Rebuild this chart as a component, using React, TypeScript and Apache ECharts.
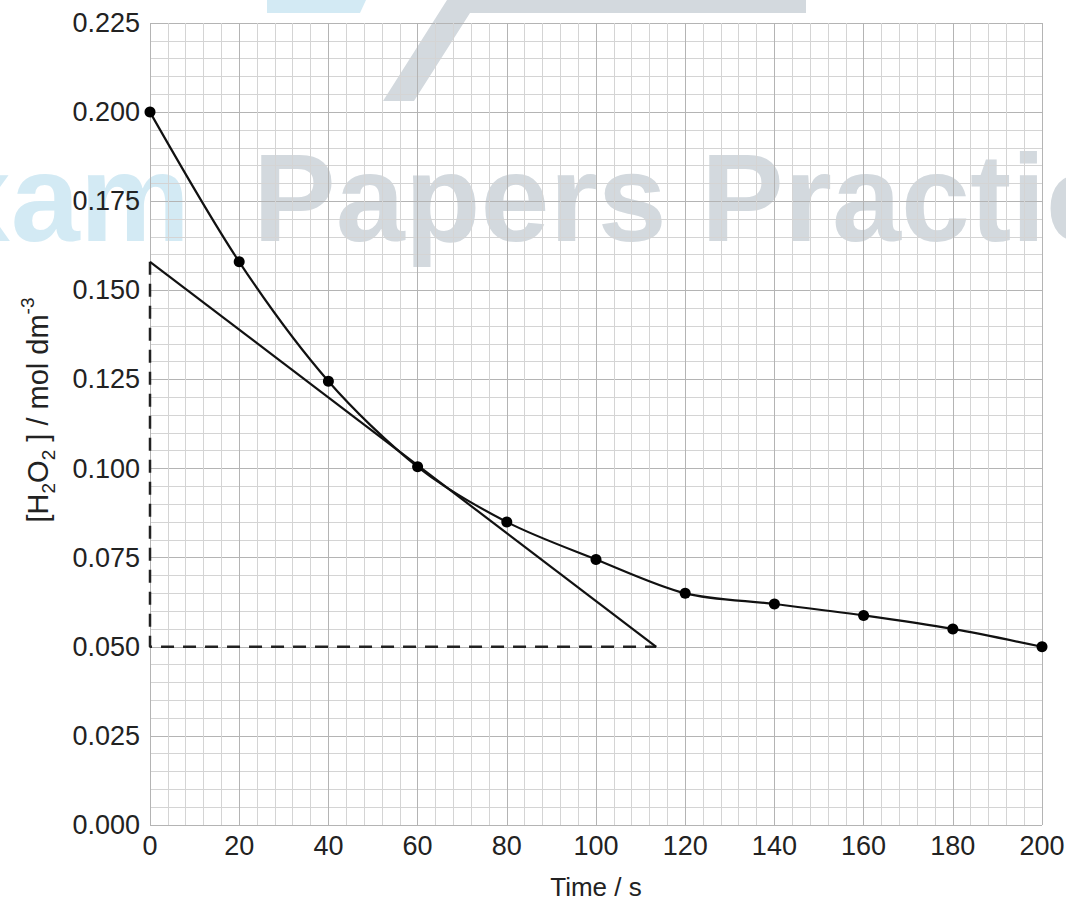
import React, { useEffect, useRef } from "react";
import * as echarts from "echarts";

const times = [0, 20, 40, 60, 80, 100, 120, 140, 160, 180, 200];
const concentrations = [0.2, 0.158, 0.1245, 0.1005, 0.085, 0.0745, 0.065, 0.062, 0.0588, 0.055, 0.05];
const tangentTimes = [0, 113.5];
const tangentValues = [0.158, 0.05];
const guideTimes = [0, 0, 113.5];
const guideValues = [0.158, 0.05, 0.05];
const xTicks = { min: 0, max: 200, interval: 20 };
const yTicks = { min: 0, max: 0.225, interval: 0.025 };

const FONT = "'Liberation Sans', Arial, Helvetica, sans-serif";

export default function App() {
  const ref = useRef<HTMLDivElement>(null);
  useEffect(() => {
    if (!ref.current) return;
    const chart = echarts.init(ref.current, undefined, { renderer: "svg" });
    const pairs = (xs: number[], ys: number[]) => xs.map((x, i) => [x, ys[i]]);
    chart.setOption({
      animation: false,
      backgroundColor: "#ffffff",
      grid: { left: 150, right: 24, top: 23, bottom: 77, outerBoundsMode: "none", containLabel: false },
      graphic: [
        {
          type: "polygon",
          z: -10,
          shape: { points: [[267, 0], [366, 0], [360, 13], [267, 13]] },
          style: { fill: "#d3eaf4" },
        },
        {
          type: "polygon",
          z: -10,
          shape: { points: [[447, 0], [806, 0], [806, 13], [470, 13], [414, 101], [383, 101]] },
          style: { fill: "#d3d9de" },
        },
        {
          type: "text",
          z: -10,
          x: 190,
          y: 198,
          style: {
            text: "Exam",
            font: `bold 124px ${FONT}`,
            fill: "#d3eaf4",
            align: "right",
            verticalAlign: "middle",
          },
        },
        {
          type: "text",
          z: -10,
          x: 253,
          y: 198,
          style: {
            text: "Papers Practice",
            font: `bold 124px ${FONT}`,
            fill: "#d3d9de",
            align: "left",
            verticalAlign: "middle",
          },
        },
      ],
      xAxis: {
        type: "value",
        min: xTicks.min,
        max: xTicks.max,
        interval: xTicks.interval,
        name: "Time / s",
        nameLocation: "middle",
        nameGap: 49,
        nameTextStyle: { fontSize: 26, color: "#222", fontFamily: FONT },
        axisLine: { show: false },
        axisTick: { show: false },
        axisLabel: { fontSize: 27, color: "#222", fontFamily: FONT, margin: 7 },
        splitLine: { show: true, lineStyle: { color: "#b4b4b4", width: 1 } },
        minorTick: { show: false, splitNumber: 5 },
        minorSplitLine: { show: true, lineStyle: { color: "#d4d4d4", width: 1 } },
      },
      yAxis: {
        type: "value",
        min: yTicks.min,
        max: yTicks.max,
        interval: yTicks.interval,
        name: "[H{sub|2}O{sub|2} ] / mol dm{sup|-3}",
        nameLocation: "middle",
        nameRotate: 90,
        nameGap: 92,
        nameTextStyle: {
          fontSize: 29,
          color: "#222",
          fontFamily: FONT,
          lineHeight: 40,
          padding: [0, 0, 0, 28],
          rich: {
            sub: { fontSize: 19, lineHeight: 19, verticalAlign: "bottom", color: "#222", fontFamily: FONT },
            sup: { fontSize: 19, lineHeight: 19, verticalAlign: "top", color: "#222", fontFamily: FONT },
          },
        },
        axisLine: { show: false },
        axisTick: { show: false },
        axisLabel: {
          fontSize: 27,
          color: "#222",
          fontFamily: FONT,
          margin: 10,
          formatter: (v: number) => v.toFixed(3),
        },
        splitLine: { show: true, lineStyle: { color: "#b4b4b4", width: 1 } },
        minorTick: { show: false, splitNumber: 5 },
        minorSplitLine: { show: true, lineStyle: { color: "#d4d4d4", width: 1 } },
      },
      series: [
        {
          type: "line",
          data: pairs(guideTimes, guideValues),
          showSymbol: false,
          symbol: "none",
          lineStyle: { color: "#222", width: 2.5, type: [13, 9] },
          z: 3,
        },
        {
          type: "line",
          data: pairs(tangentTimes, tangentValues),
          showSymbol: false,
          symbol: "none",
          lineStyle: { color: "#111", width: 2.2 },
          z: 4,
        },
        {
          type: "line",
          data: pairs(times, concentrations),
          smooth: 0.3,
          symbol: "circle",
          symbolSize: 11,
          itemStyle: { color: "#000" },
          lineStyle: { color: "#111", width: 2.2 },
          z: 5,
        },
      ],
    });
    return () => chart.dispose();
  }, []);
  return (
    <div
      ref={ref}
      style={{ position: "fixed", left: 0, top: 0, width: 1066, height: 902, background: "#fff" }}
    />
  );
}
